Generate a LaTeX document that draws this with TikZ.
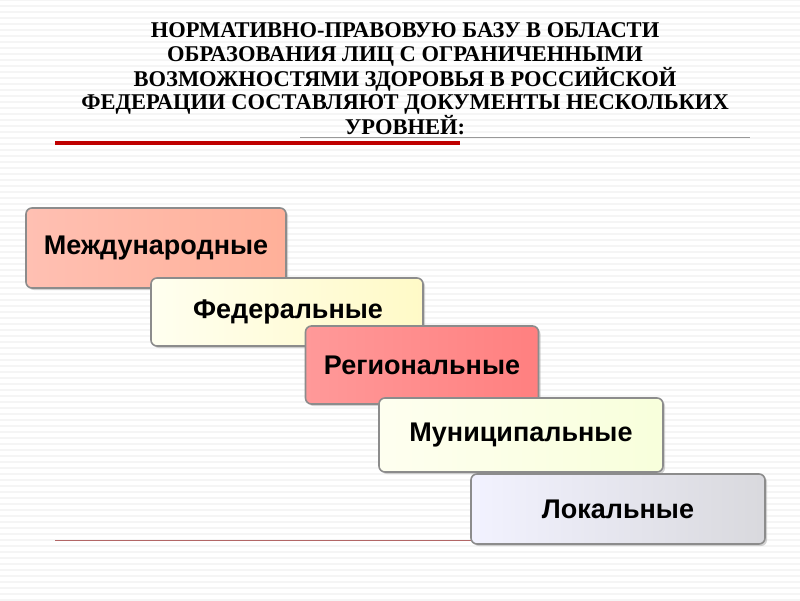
\documentclass[tikz,border=0pt]{standalone}
\usepackage{fontspec}
\setmainfont{Liberation Serif}
\newfontfamily\boxfont{Liberation Sans}
\usetikzlibrary{shadows}
\begin{document}
\begin{tikzpicture}[x=1pt,y=-1pt,
 lvl/.style={draw=black!45,line width=1.6pt,rounded corners=6pt,minimum height=#1,
   font=\boxfont\bfseries\fontsize{27}{30}\selectfont,inner sep=0pt,
   drop shadow={shadow xshift=2pt,shadow yshift=-2pt,fill=black!35}},
 lvl/.default=76pt]
\fill[white] (0,0) rectangle (800,600);
\useasboundingbox (0,0) rectangle (800,600);
\foreach \y in {0,6,...,600} \draw[black!4,line width=2pt] (0,\y) -- (800,\y);
\node[font=\bfseries\fontsize{22.5}{23.7}\selectfont,align=center] (title) at (405,79)
 {НОРМАТИВНО-ПРАВОВУЮ БАЗУ В ОБЛАСТИ\\ОБРАЗОВАНИЯ ЛИЦ С ОГРАНИЧЕННЫМИ\\ВОЗМОЖНОСТЯМИ ЗДОРОВЬЯ В РОССИЙСКОЙ\\ФЕДЕРАЦИИ СОСТАВЛЯЮТ ДОКУМЕНТЫ НЕСКОЛЬКИХ\\УРОВНЕЙ:};
\draw[black!40,line width=0.6pt] (300,137) -- (750,137);
\draw[red!75!black,line width=4pt] (55,143) -- (460,143);
\draw[red!50!black!60,line width=0.6pt] (55,540) -- (750,540);
\node[lvl=80pt,minimum width=260pt,left color=orange!35!red!30!white,right color=orange!45!red!40!white] (m) at (156,248) {Международные};
\node[lvl=68pt,minimum width=272pt,left color=yellow!6!white,right color=orange!20!yellow!22!white] (f) at (287,312) {\hspace*{2pt}Федеральные};
\node[lvl=78pt,minimum width=233pt,left color=red!40!white,right color=red!50!white] (r) at (422,365) {Региональные};
\node[lvl=74pt,minimum width=284pt,left color=green!5!yellow!6!white,right color=green!20!yellow!14!white] (mu) at (521,435) {Муниципальные};
\node[lvl=70pt,minimum width=294pt,left color=blue!5!white,right color=blue!12!black!15!white] (l) at (618,509) {Локальные};
\end{tikzpicture}
\end{document}
